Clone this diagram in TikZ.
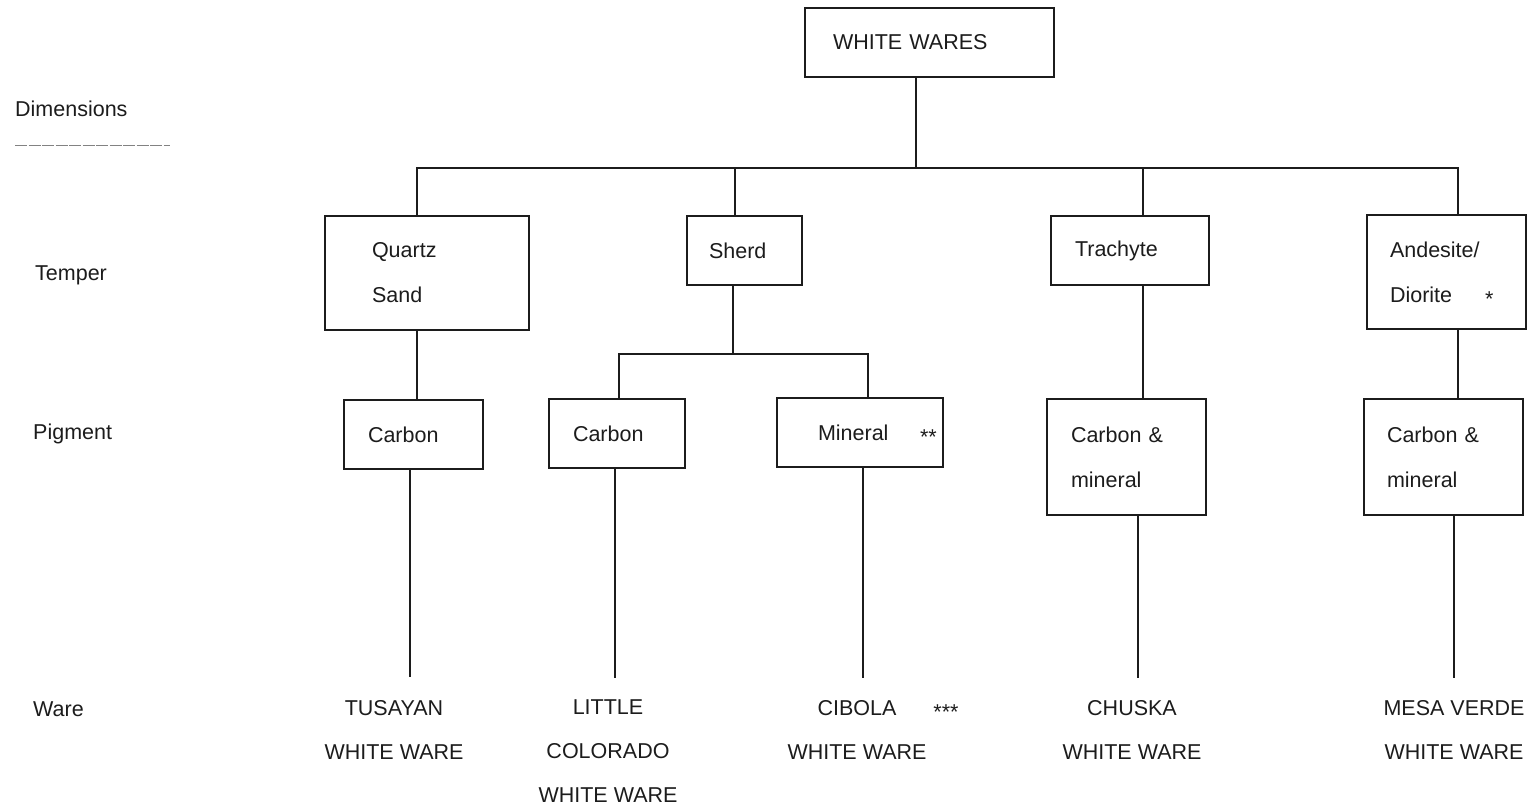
\documentclass[tikz,border=0pt]{standalone}
\usepackage{fontspec}
\setmainfont{Liberation Sans}
\definecolor{ink}{HTML}{1C1C1C}
\newcommand{\stars}[1]{\raisebox{-4pt}[0pt][0pt]{#1}}
\begin{document}
\begin{tikzpicture}[x=1pt,y=-1pt,
  every node/.style={font=\fontsize{21.5}{45}\selectfont, text=ink},
  box/.style={draw=ink, line width=1.4pt, inner sep=0pt, align=left},
  conn/.style={draw=ink, line width=1.9pt},
  lbl/.style={anchor=base west, inner sep=0pt},
  ware/.style={anchor=north, inner sep=0pt, align=center, font=\fontsize{21.5}{44}\selectfont}]
\useasboundingbox (0,0) rectangle (1531,810);

% left dimension labels
\node[lbl] (dim) at (15,117) {Dimensions};
\draw[ink!55, line width=1pt, dash pattern=on 12pt off 1.5pt] (15,146) -- (170,146);
\node[lbl] (tmp) at (35,280) {Temper};
\node[lbl] (pig) at (33,439) {Pigment};
\node[lbl] (war) at (33,716) {Ware};

% top
\node[box, minimum width=249pt, minimum height=69pt, text width=249pt] (ww) at (929.5,42.5) {\hspace*{28pt}WHITE WARES};

% temper row
\node[box, minimum width=204pt, minimum height=114pt, text width=204pt] (qz) at (427,273) {\hspace*{47pt}Quartz\\\hspace*{47pt}Sand};
\node[box, minimum width=115pt, minimum height=69pt, text width=115pt] (sh) at (744.5,250.5) {\hspace*{22pt}Sherd};
\node[box, minimum width=158pt, minimum height=69pt, text width=158pt] (tr) at (1130,250.5) {\hspace*{24pt}Trachyte};
\node[box, minimum width=159pt, minimum height=114pt, text width=159pt] (an) at (1446.5,272) {\hspace*{23pt}Andesite/\\\hspace*{23pt}\makebox[95pt][l]{Diorite}\stars{*}};

% pigment row
\node[box, minimum width=139pt, minimum height=69pt, text width=139pt] (c1) at (413.5,434.5) {\hspace*{24pt}Carbon};
\node[box, minimum width=136pt, minimum height=69pt, text width=136pt] (c2) at (617,433.5) {\hspace*{24pt}Carbon};
\node[box, minimum width=166pt, minimum height=69pt, text width=166pt] (mi) at (860,432.5) {\hspace*{41pt}\makebox[102pt][l]{Mineral}\stars{**}};
\node[box, minimum width=159pt, minimum height=116pt, text width=159pt] (cm1) at (1126.5,457) {\hspace*{24pt}Carbon \&\\\hspace*{24pt}mineral};
\node[box, minimum width=159pt, minimum height=116pt, text width=159pt] (cm2) at (1443.5,457) {\hspace*{23pt}Carbon \&\\\hspace*{23pt}mineral};

% ware row
\node[ware] (tu) at (394,700) {TUSAYAN\\WHITE WARE};
\node[ware] (lc) at (608,700) {LITTLE\\COLORADO\\WHITE WARE};
\node[ware] (ci) at (857,700) {CIBOLA\rlap{\hspace{37pt}\stars{***}}\\WHITE WARE};
\node[ware] (ch) at (1132,700) {CHUSKA\\WHITE WARE};
\node[ware] (mv) at (1454,700) {MESA VERDE\\WHITE WARE};

% connector junctions
\coordinate (jt) at (916,168);
\coordinate (j1) at (417,168);
\coordinate (j2) at (735,168);
\coordinate (j3) at (1143,168);
\coordinate (j4) at (1458,168);
\coordinate (sm) at (733,354);
\coordinate (s1) at (619,354);
\coordinate (s2) at (868,354);
\coordinate (w1) at (410,677);
\coordinate (w2) at (615,678);
\coordinate (w3) at (863,678);
\coordinate (w4) at (1138,678);
\coordinate (w5) at (1454,678);

\draw[conn] (ww.south -| jt) -- (jt);
\draw[conn] (j1 |- qz.north) -- (j1) -- (j4) -- (j4 |- an.north);
\draw[conn] (j2) -- (j2 |- sh.north);
\draw[conn] (j3) -- (j3 |- tr.north);

\draw[conn] (qz.south -| j1) -- (c1.north -| j1);
\draw[conn] (sh.south -| sm) -- (sm);
\draw[conn] (c2.north -| s1) -- (s1) -- (s2) -- (s2 |- mi.north);
\draw[conn] (tr.south -| j3) -- (cm1.north -| j3);
\draw[conn] (an.south -| j4) -- (cm2.north -| j4);

\draw[conn] (c1.south -| w1) -- (w1);
\draw[conn] (c2.south -| w2) -- (w2);
\draw[conn] (mi.south -| w3) -- (w3);
\draw[conn] (cm1.south -| w4) -- (w4);
\draw[conn] (cm2.south -| w5) -- (w5);
\end{tikzpicture}
\end{document}
